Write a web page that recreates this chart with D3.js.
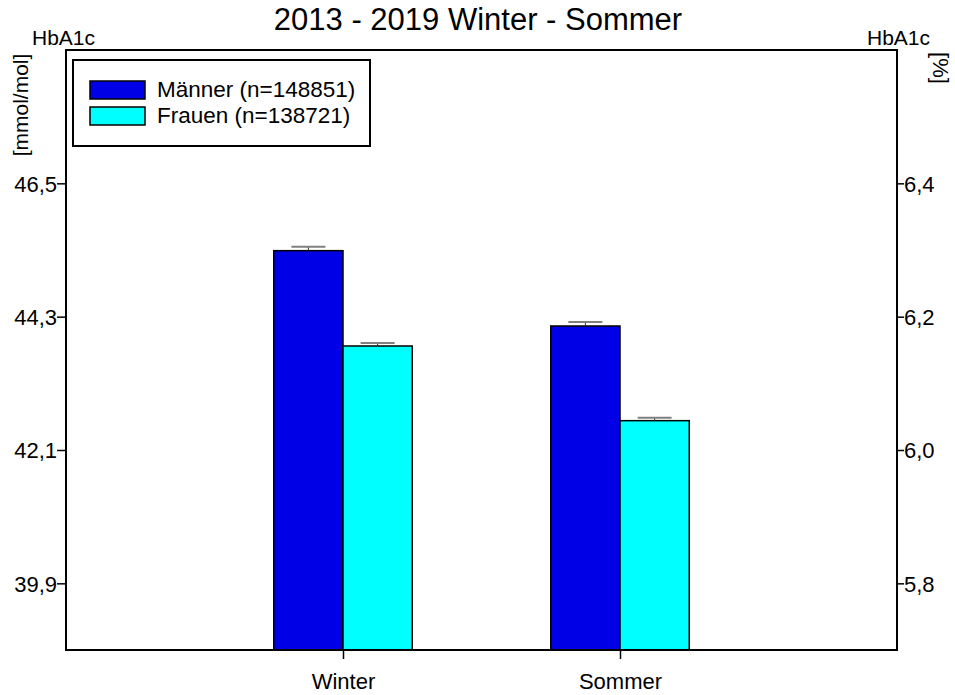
<!DOCTYPE html>
<html>
<head>
<meta charset="utf-8">
<script src="https://cdn.jsdelivr.net/npm/d3@7"></script>
<style>
  body { margin: 0; background: #ffffff; }
  text { font-family: "Liberation Sans", Arial, sans-serif; fill: #000; }
</style>
</head>
<body>
<div id="chart1"></div>
<script>
// Data (HbA1c in %, right axis is the primary scale)
var seasons = ["Winter", "Sommer"];
var seriesNames = ["Männer (n=148851)", "Frauen (n=138721)"];
var maennerValues = [6.299, 6.186];
var frauenValues = [6.156, 6.044];
var maennerErrors = [0.006, 0.006];
var frauenErrors = [0.0045, 0.0045];
var rightTicks = [5.8, 6.0, 6.2, 6.4];
var rightTickLabels = ["5,8", "6,0", "6,2", "6,4"];
var leftTickLabels = ["39,9", "42,1", "44,3", "46,5"];

var chartConfig = {
	width : 955,
	height : 695,
	left : 66,
	right : 897,
	top : 50,
	bottom : 650,
	yMin : 5.7,
	yMax : 6.6
};

var colors = ["#0000e6", "#00ffff"];

var svg1 = d3.select("#chart1").append("svg")
	.attr("width", chartConfig.width)
	.attr("height", chartConfig.height);

var x = d3.scalePoint()
	.domain(seasons)
	.range([chartConfig.left, chartConfig.right])
	.padding(1);

var y = d3.scaleLinear()
	.domain([chartConfig.yMin, chartConfig.yMax])
	.range([chartConfig.bottom, chartConfig.top]);

var barWidth = x.step() * 0.25;

var dataset = [];
seasons.forEach(function(s, i) {
	dataset.push({season: s, series: 0, v: maennerValues[i], e: maennerErrors[i]});
	dataset.push({season: s, series: 1, v: frauenValues[i], e: frauenErrors[i]});
});

// bars
svg1.selectAll("rect.bar")
	.data(dataset)
	.enter().append("rect")
	.attr("class", "bar")
	.attr("x", function(d) { return x(d.season) + (d.series - 1) * barWidth; })
	.attr("y", function(d) { return y(d.v); })
	.attr("width", barWidth)
	.attr("height", function(d) { return y(chartConfig.yMin) - y(d.v); })
	.attr("fill", function(d) { return colors[d.series]; })
	.attr("stroke", "#000")
	.attr("stroke-width", 1.5);

// error bars
var err = svg1.selectAll("g.err")
	.data(dataset)
	.enter().append("g")
	.attr("class", "err");
err.append("line")
	.attr("x1", function(d) { return x(d.season) + (d.series - 0.5) * barWidth; })
	.attr("x2", function(d) { return x(d.season) + (d.series - 0.5) * barWidth; })
	.attr("y1", function(d) { return y(d.v); })
	.attr("y2", function(d) { return y(d.v + d.e); })
	.attr("stroke", "#333")
	.attr("stroke-width", 1);
err.append("line")
	.attr("x1", function(d) { return x(d.season) + (d.series - 0.5) * barWidth - 17; })
	.attr("x2", function(d) { return x(d.season) + (d.series - 0.5) * barWidth + 17; })
	.attr("y1", function(d) { return y(d.v + d.e); })
	.attr("y2", function(d) { return y(d.v + d.e); })
	.attr("stroke", "#808080")
	.attr("stroke-width", 2);

// frame
svg1.append("rect")
	.attr("x", chartConfig.left)
	.attr("y", chartConfig.top)
	.attr("width", chartConfig.right - chartConfig.left)
	.attr("height", chartConfig.bottom - chartConfig.top)
	.attr("fill", "none")
	.attr("stroke", "#000")
	.attr("stroke-width", 2);

// left axis (mmol/mol labels at the % positions)
var leftAxis = d3.axisLeft(y)
	.tickValues(rightTicks)
	.tickSize(9)
	.tickFormat(function(d, i) { return leftTickLabels[i]; });
var gl = svg1.append("g")
	.attr("transform", "translate(" + chartConfig.left + ",0)")
	.call(leftAxis);
gl.select(".domain").remove();
gl.selectAll("line").attr("stroke", "#000").attr("stroke-width", 1.5);
gl.selectAll("text")
	.attr("x", -9)
	.attr("dy", "0.36em")
	.style("font-family", "Liberation Sans, Arial, sans-serif")
	.style("font-size", "22px");

// right axis (%)
var rightAxis = d3.axisRight(y)
	.tickValues(rightTicks)
	.tickSize(7)
	.tickFormat(function(d, i) { return rightTickLabels[i]; });
var gr = svg1.append("g")
	.attr("transform", "translate(" + chartConfig.right + ",0)")
	.call(rightAxis);
gr.select(".domain").remove();
gr.selectAll("line").attr("stroke", "#000").attr("stroke-width", 1.5);
gr.selectAll("text")
	.attr("x", 7)
	.attr("dy", "0.36em")
	.style("font-family", "Liberation Sans, Arial, sans-serif")
	.style("font-size", "22px");

// bottom axis
var bottomAxis = d3.axisBottom(x).tickSize(9);
var gb = svg1.append("g")
	.attr("transform", "translate(0," + chartConfig.bottom + ")")
	.call(bottomAxis);
gb.select(".domain").remove();
gb.selectAll("line").attr("stroke", "#000").attr("stroke-width", 1.5);
gb.selectAll("text")
	.attr("y", 39)
	.attr("dy", 0)
	.style("font-family", "Liberation Sans, Arial, sans-serif")
	.style("font-size", "22px");

// titles
svg1.append("text")
	.attr("x", 478)
	.attr("y", 30)
	.attr("text-anchor", "middle")
	.style("font-size", "31px")
	.text("2013 - 2019 Winter - Sommer");

svg1.append("text")
	.attr("x", 32)
	.attr("y", 45)
	.style("font-size", "21px")
	.text("HbA1c");

svg1.append("text")
	.attr("x", 930)
	.attr("y", 45)
	.attr("text-anchor", "end")
	.style("font-size", "21px")
	.text("HbA1c");

svg1.append("text")
	.attr("transform", "translate(28,105) rotate(-90)")
	.attr("text-anchor", "middle")
	.style("font-size", "21px")
	.text("[mmol/mol]");

svg1.append("text")
	.attr("transform", "translate(933,68) rotate(90)")
	.attr("text-anchor", "middle")
	.style("font-size", "22px")
	.text("[%]");

// legend
var legend = svg1.append("g");
legend.append("rect")
	.attr("x", 73)
	.attr("y", 60)
	.attr("width", 297)
	.attr("height", 86)
	.attr("fill", "#fff")
	.attr("stroke", "#000")
	.attr("stroke-width", 2);
var li = legend.selectAll("g.item")
	.data(seriesNames)
	.enter().append("g")
	.attr("class", "item")
	.attr("transform", function(d, i) { return "translate(90," + (81 + i * 26) + ")"; });
li.append("rect")
	.attr("width", 55)
	.attr("height", 18)
	.attr("fill", function(d, i) { return colors[i]; })
	.attr("stroke", "#000")
	.attr("stroke-width", 1.5);
li.append("text")
	.attr("x", 67)
	.attr("y", 16)
	.style("font-size", "22.5px")
	.text(function(d) { return d; });
</script>
</body>
</html>
